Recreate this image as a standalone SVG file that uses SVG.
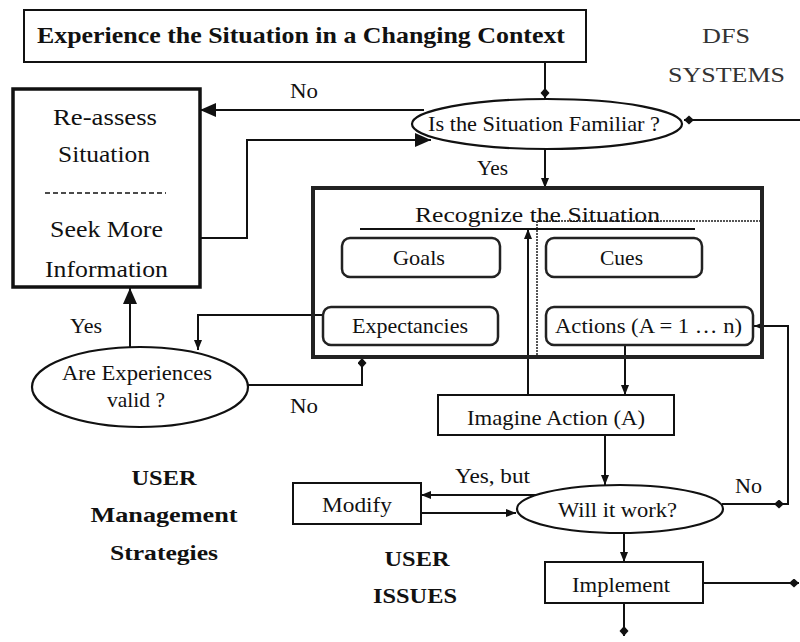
<svg xmlns="http://www.w3.org/2000/svg" width="800" height="642" viewBox="0 0 800 642">
  <style>
    .t { font-family: "Liberation Serif", "Times New Roman", serif; fill: #111; }
    .b { font-weight: bold; }
    .box { fill: #fff; stroke: #111; stroke-width: 2; }
    .rbox { fill: #fff; stroke: #222; stroke-width: 2.5; }
    .ell { fill: #fff; stroke: #111; stroke-width: 2.2; }
    .con { fill: none; stroke: #111; stroke-width: 2; }
    .dots { fill: none; stroke: #555; stroke-width: 2; stroke-dasharray: 2 1; }
  </style>
  <defs>
    <marker id="triBig" markerUnits="userSpaceOnUse" markerWidth="18" markerHeight="16" refX="16" refY="7" orient="auto">
      <path d="M0,0 L16,7 L0,14 z" fill="#111"/>
    </marker>
    <marker id="triSmall" markerUnits="userSpaceOnUse" markerWidth="12" markerHeight="10" refX="10" refY="4" orient="auto">
      <path d="M0,0 L10,4 L0,8 z" fill="#111"/>
    </marker>
    <marker id="dot" markerUnits="userSpaceOnUse" markerWidth="12" markerHeight="10" refX="10" refY="4.5" orient="auto">
      <path d="M0,4.5 L5,0 L10,4.5 L5,9 z" fill="#111"/>
    </marker>
  </defs>

  <rect width="800" height="642" fill="#fff"/>

  <!-- connectors -->
  <g id="connectors">
    <path class="con" d="M545,62 V98" marker-end="url(#dot)"/>
    <path class="con" d="M800,120 H684" marker-end="url(#dot)"/>
    <path class="con" d="M545,150 V188" marker-end="url(#triSmall)"/>
    <path class="con" d="M424,110 H200" marker-end="url(#triBig)"/>
    <path class="con" d="M200,238 H247 V140 H431" marker-end="url(#triBig)"/>
    <path class="con" d="M323,315 H198 V350" marker-end="url(#triSmall)"/>
    <path class="con" d="M130,347 V288" marker-end="url(#triBig)"/>
    <path class="con" d="M248,385 H362 V358" marker-end="url(#dot)"/>
    <path class="con" d="M625,345 V395" marker-end="url(#triSmall)"/>
    <path class="con" d="M528,395 V229" marker-end="url(#triSmall)"/>
    <path class="con" d="M605,435 V485" marker-end="url(#triSmall)"/>
    <path class="con" d="M536,495 H421" marker-end="url(#triSmall)"/>
    <path class="con" d="M421,513 H516" marker-end="url(#triSmall)"/>
    <path class="con" d="M722,504 H784" marker-end="url(#dot)"/>
    <path class="con" d="M784,504 H788 V326 H754" marker-end="url(#triSmall)"/>
    <path class="con" d="M624,533 V562" marker-end="url(#triSmall)"/>
    <path class="con" d="M703,583 H799" marker-end="url(#dot)"/>
    <path class="con" d="M624,603 V636" marker-end="url(#dot)"/>
  </g>

  <!-- connector labels -->
  <g id="labels" class="t" font-size="20">
    <text x="290" y="98" textLength="28" lengthAdjust="spacingAndGlyphs">No</text>
    <text x="477" y="175" textLength="31" lengthAdjust="spacingAndGlyphs">Yes</text>
    <text x="70" y="333" textLength="32" lengthAdjust="spacingAndGlyphs">Yes</text>
    <text x="290" y="413" textLength="28" lengthAdjust="spacingAndGlyphs">No</text>
    <text x="455" y="483" textLength="75" lengthAdjust="spacingAndGlyphs">Yes, but</text>
    <text x="735" y="493" textLength="27" lengthAdjust="spacingAndGlyphs">No</text>
  </g>

  <!-- free-standing captions -->
  <g id="dfs-systems" class="t" font-size="21">
    <text x="702" y="43" textLength="48" lengthAdjust="spacingAndGlyphs" style="fill:#333">DFS</text>
    <text x="668" y="82" textLength="117" lengthAdjust="spacingAndGlyphs" style="fill:#333">SYSTEMS</text>
  </g>
  <g id="user-strategies" class="t b" font-size="21" text-anchor="middle">
    <text x="164" y="485" textLength="65" lengthAdjust="spacingAndGlyphs">USER</text>
    <text x="164" y="522" textLength="147" lengthAdjust="spacingAndGlyphs">Management</text>
    <text x="164" y="560" textLength="108" lengthAdjust="spacingAndGlyphs">Strategies</text>
  </g>
  <g id="user-issues" class="t b" font-size="21" text-anchor="middle">
    <text x="417" y="566" textLength="65" lengthAdjust="spacingAndGlyphs">USER</text>
    <text x="415" y="603" textLength="84" lengthAdjust="spacingAndGlyphs">ISSUES</text>
  </g>

  <!-- nodes -->
  <g id="experience">
    <rect class="box" x="24" y="10" width="562" height="52"/>
    <text class="t b" x="37" y="43" font-size="23" textLength="528" lengthAdjust="spacingAndGlyphs">Experience the Situation in a Changing Context</text>
  </g>

  <g id="familiar">
    <ellipse class="ell" cx="547" cy="124" rx="135" ry="25"/>
    <text class="t" x="428" y="131" font-size="21" textLength="232" lengthAdjust="spacingAndGlyphs">Is the Situation Familiar ?</text>
  </g>

  <g id="reassess">
    <rect x="13" y="89" width="187" height="198" fill="#fff" stroke="#111" stroke-width="3.5"/>
    <g class="t" font-size="23">
      <text x="53" y="125" textLength="104" lengthAdjust="spacingAndGlyphs">Re-assess</text>
      <text x="58" y="162" textLength="92" lengthAdjust="spacingAndGlyphs">Situation</text>
      <text x="50" y="237" textLength="113" lengthAdjust="spacingAndGlyphs">Seek More</text>
      <text x="45" y="277" textLength="123" lengthAdjust="spacingAndGlyphs">Information</text>
    </g>
    <line x1="45" y1="193" x2="166" y2="193" stroke="#111" stroke-width="1.5" stroke-dasharray="5 3"/>
  </g>

  <g id="recognize">
    <rect x="313" y="188" width="449" height="169" fill="none" stroke="#222" stroke-width="4"/>
    <line class="dots" x1="537" y1="221" x2="760" y2="221"/>
    <line class="dots" x1="537" y1="221" x2="537" y2="355"/>
    <text class="t" x="415" y="222" font-size="21" textLength="245" lengthAdjust="spacingAndGlyphs">Recognize the Situation</text>
    <line x1="360" y1="229" x2="695" y2="229" stroke="#111" stroke-width="2"/>
  </g>

  <g id="goals">
    <rect class="rbox" x="342" y="238" width="158" height="39" rx="8"/>
    <text class="t" x="393" y="265" font-size="21" textLength="52" lengthAdjust="spacingAndGlyphs">Goals</text>
  </g>
  <g id="cues">
    <rect class="rbox" x="546" y="238" width="156" height="39" rx="8"/>
    <text class="t" x="600" y="265" font-size="21" textLength="43" lengthAdjust="spacingAndGlyphs">Cues</text>
  </g>
  <g id="expectancies">
    <rect class="rbox" x="323" y="307" width="175" height="38" rx="8"/>
    <text class="t" x="352" y="333" font-size="21" textLength="116" lengthAdjust="spacingAndGlyphs">Expectancies</text>
  </g>
  <g id="actions">
    <rect class="rbox" x="546" y="307" width="207" height="38" rx="8"/>
    <text class="t" x="555" y="333" font-size="21" textLength="187" lengthAdjust="spacingAndGlyphs">Actions (A = 1 … n)</text>
  </g>

  <g id="experiences-valid">
    <ellipse class="ell" cx="140" cy="387" rx="108" ry="40"/>
    <text class="t" x="62" y="380" font-size="21" textLength="150" lengthAdjust="spacingAndGlyphs">Are Experiences</text>
    <text class="t" x="107" y="407" font-size="21" textLength="58" lengthAdjust="spacingAndGlyphs">valid ?</text>
  </g>

  <g id="imagine">
    <rect class="box" x="438" y="395" width="236" height="40"/>
    <text class="t" x="467" y="425" font-size="21" textLength="178" lengthAdjust="spacingAndGlyphs">Imagine Action (A)</text>
  </g>

  <g id="will-it-work">
    <ellipse class="ell" cx="620" cy="509" rx="103" ry="24"/>
    <text class="t" x="558" y="517" font-size="20" textLength="119" lengthAdjust="spacingAndGlyphs">Will it work?</text>
  </g>

  <g id="modify">
    <rect class="box" x="293" y="483" width="128" height="41"/>
    <text class="t" x="322" y="512" font-size="20" textLength="70" lengthAdjust="spacingAndGlyphs">Modify</text>
  </g>

  <g id="implement">
    <rect class="box" x="545" y="562" width="158" height="41"/>
    <text class="t" x="572" y="592" font-size="20" textLength="98" lengthAdjust="spacingAndGlyphs">Implement</text>
  </g>
</svg>
